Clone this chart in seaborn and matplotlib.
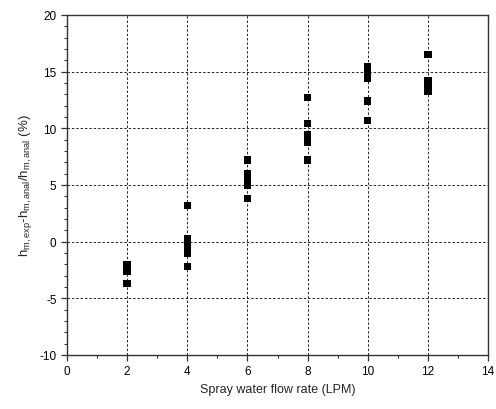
import pandas as pd
import seaborn as sns
import matplotlib.pyplot as plt
from matplotlib.ticker import MultipleLocator

# flow rate (LPM) and deviation (%)
flow_2 = [2, 2, 2, 2]
dev_2 = [-2.0, -2.3, -2.6, -3.7]
flow_4 = [4, 4, 4, 4, 4, 4]
dev_4 = [3.2, 0.3, -0.2, -0.6, -1.0, -2.2]
flow_6 = [6, 6, 6, 6, 6]
dev_6 = [7.2, 6.0, 5.5, 5.0, 3.8]
flow_8 = [8, 8, 8, 8, 8]
dev_8 = [12.7, 10.4, 9.4, 8.8, 7.2]
flow_10 = [10, 10, 10, 10, 10]
dev_10 = [15.4, 14.9, 14.4, 12.4, 10.7]
flow_12 = [12, 12, 12, 12]
dev_12 = [16.5, 14.2, 13.8, 13.3]

df = pd.DataFrame({
    'flow': flow_2 + flow_4 + flow_6 + flow_8 + flow_10 + flow_12,
    'dev': dev_2 + dev_4 + dev_6 + dev_8 + dev_10 + dev_12,
})

sns.set_style('ticks')
plt.rcParams['font.family'] = ['Liberation Sans', 'DejaVu Sans']
plt.rcParams['mathtext.fontset'] = 'custom'
plt.rcParams['mathtext.rm'] = 'Liberation Sans'
plt.rcParams['mathtext.it'] = 'Liberation Sans'
plt.rcParams['axes.unicode_minus'] = False

fig = plt.figure(figsize=(4.96, 4.10), dpi=100)
ax = fig.add_axes([0.135, 0.132, 0.849, 0.829])

sns.scatterplot(data=df, x='flow', y='dev', marker='s', s=28, color='black',
                edgecolor='none', ax=ax, zorder=3)

ax.set_xlim(0, 14)
ax.set_ylim(-10, 20)
ax.xaxis.set_major_locator(MultipleLocator(2))
ax.xaxis.set_minor_locator(MultipleLocator(1))
ax.yaxis.set_major_locator(MultipleLocator(5))
ax.yaxis.set_minor_locator(MultipleLocator(1))
ax.grid(True, which='major', color='#222222', linestyle=(0, (2.5, 2)), linewidth=0.7)

for s in ax.spines.values():
    s.set_linewidth(1.0)
    s.set_color('#333333')
ax.tick_params(which='major', length=4, width=0.9, labelsize=8.5, colors='#333333', labelcolor='black')
ax.tick_params(which='minor', length=2.5, width=0.8, colors='#333333')

ax.set_xlabel('Spray water flow rate (LPM)', fontsize=9)
ax.set_ylabel(r'h$_{\rm m,exp}$-h$_{\rm m,anal}$/h$_{\rm m,anal}$ (%)', fontsize=9.5)

fig.savefig('out.png', dpi=100)
